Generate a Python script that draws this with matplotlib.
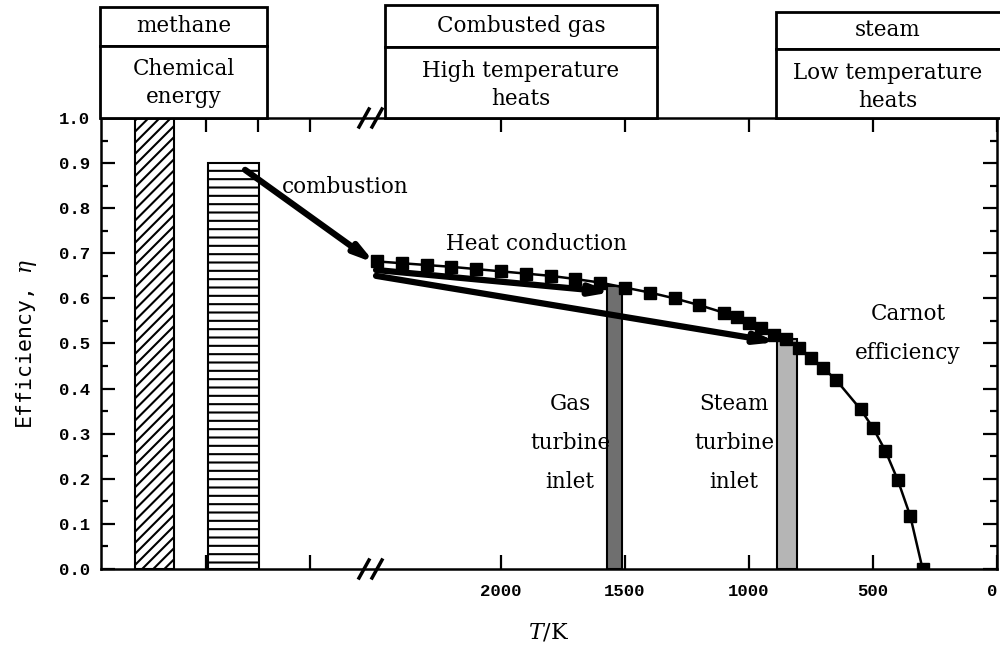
import matplotlib
matplotlib.use("Agg")
import matplotlib.pyplot as plt
from matplotlib.patches import Rectangle
from matplotlib.lines import Line2D
from matplotlib.ticker import MultipleLocator, FixedLocator, FixedFormatter, NullLocator

plt.rcParams["mathtext.fontset"] = "dejavuserif"
plt.rcParams["hatch.linewidth"] = 1.5

# Carnot efficiency curve (temperature in K, efficiency)
carnot_T = [2500, 2400, 2300, 2200, 2100, 2000, 1900, 1800, 1700, 1600, 1500,
            1400, 1300, 1200, 1100, 1050, 1000, 950, 900, 850, 800, 750, 700,
            650, 550, 500, 450, 400, 350, 300]
carnot_eta = [0.682, 0.678, 0.674, 0.670, 0.665, 0.660, 0.655, 0.650, 0.643,
              0.635, 0.624, 0.613, 0.600, 0.585, 0.568, 0.558, 0.546, 0.534,
              0.519, 0.509, 0.489, 0.467, 0.445, 0.420, 0.354, 0.313, 0.262,
              0.197, 0.118, 0.0]

# energy level of the fuel, left of the axis break
fuel_eta = [1.0, 0.9]

# turbine inlets
inlet_T = [1542, 847]
inlet_eta = [0.627, 0.51]

# arrows: (T, eta) start -> end
arrow_start = [(3032, 0.885), (2504, 0.663), (2504, 0.650)]
arrow_end = [(2508, 0.678), (1552, 0.614), (887, 0.503)]

temp_ticks = [2000, 1500, 1000, 500, 0]

# layout (pixels of a 1000x646 figure)
W, H = 1000, 646
serif = "DejaVu Serif"
mono = "Liberation Mono"


def fx(x):
    return x / W


def fy(y):
    return 1 - y / H


fig = plt.figure(figsize=(10, 6.46), dpi=100)
ax = fig.add_axes([fx(101), fy(569), fx(997) - fx(101), fy(118) - fy(569)])
ax.set_xlim(3613, 0)
ax.set_ylim(0, 1.0)

# fuel bars (placed left of the break)
fuel_x = [3397, 3079]
fuel_w = [157, 206]
ax.bar(fuel_x[0], fuel_eta[0], width=fuel_w[0], facecolor="white",
       edgecolor="black", hatch="///", lw=1.5, zorder=2)
ax.bar(fuel_x[1], fuel_eta[1], width=fuel_w[1], facecolor="white",
       edgecolor="black", hatch="--", lw=1.5, zorder=2)

# turbine inlet bars
ax.bar(inlet_T, inlet_eta, width=[60, 80], color=["#6f6f6f", "#b5b5b5"],
       edgecolor="black", lw=1.5, zorder=2)

# arrows
for s, e in zip(arrow_start, arrow_end):
    ax.annotate("", xy=e, xytext=s,
                arrowprops=dict(arrowstyle="-|>,head_length=1.1,head_width=0.3",
                                lw=4.5, color="black", capstyle="round",
                                shrinkA=0, shrinkB=0),
                zorder=3)

# Carnot curve
ax.plot(carnot_T, carnot_eta, "-s", color="black", lw=1.8, ms=9, zorder=4)

# ticks
ax.xaxis.set_major_locator(FixedLocator([3190, 2980, 2770] + temp_ticks))
ax.xaxis.set_major_formatter(FixedFormatter(["", "", ""] + [str(t) for t in temp_ticks]))
ax.xaxis.set_minor_locator(NullLocator())
ax.yaxis.set_major_locator(MultipleLocator(0.1))
ax.yaxis.set_minor_locator(MultipleLocator(0.05))
ax.yaxis.set_major_formatter(plt.FormatStrFormatter("%.1f"))
ax.tick_params(which="both", direction="in", top=True, right=True, width=1.6)
ax.tick_params(which="major", length=10)
ax.tick_params(which="minor", length=5)
ax.tick_params(axis="y", pad=8)
ax.tick_params(axis="x", pad=11)
for lab in ax.get_xticklabels() + ax.get_yticklabels():
    lab.set_fontfamily(mono)
    lab.set_fontweight("bold")
    lab.set_fontsize(12.5)
# keep the last "0" inside the picture
ax.get_xticklabels()[-1].set_horizontalalignment("right")
for sp in ax.spines.values():
    sp.set_linewidth(1.8)

ax.set_ylabel("Efficiency, $\\eta$", fontfamily="DejaVu Sans Mono", fontsize=15.5,
              labelpad=14)
ax.set_xlabel("$T$/K", fontfamily=serif, fontsize=16, labelpad=16)

# axis break marks
for ypx in (118, 569):
    for xpx in (364, 377):
        fig.add_artist(Line2D([fx(xpx - 5), fx(xpx + 5)], [fy(ypx + 9), fy(ypx - 9)],
                              color="black", lw=2.5))

# annotations
txt = dict(fontfamily=serif, fontsize=15.5, ha="center", va="center")
ax.text(fx(345), fy(187), "combustion", transform=fig.transFigure, **txt)
ax.text(fx(536), fy(244), "Heat conduction", transform=fig.transFigure, **txt)
ax.text(fx(908), fy(334), "Carnot\nefficiency", transform=fig.transFigure,
        linespacing=2.0, **txt)
ax.text(fx(570), fy(443), "Gas\nturbine\ninlet", transform=fig.transFigure,
        linespacing=2.0, **txt)
ax.text(fx(734), fy(443), "Steam\nturbine\ninlet", transform=fig.transFigure,
        linespacing=2.0, **txt)

# header boxes above the axes
boxes = [
    (100, 267, 7, 46, "methane", "Chemical\nenergy", 83),
    (385, 657, 5, 47, "Combusted gas", "High temperature\nheats", 85),
    (776, 1010, 12, 49, "steam", "Low temperature\nheats", 87),
]
for x0, x1, yt, yd, top, bottom, yb in boxes:
    for ya, yb_ in ((yt, yd), (yd, 118)):
        fig.add_artist(Rectangle((fx(x0), fy(yb_)), fx(x1) - fx(x0), fy(ya) - fy(yb_),
                                 transform=fig.transFigure, facecolor="white",
                                 edgecolor="black", lw=2.0))
    fig.text(fx((x0 + min(x1, 1000)) / 2), fy((yt + yd) / 2), top, **txt)
    fig.text(fx((x0 + min(x1, 1000)) / 2), fy(yb), bottom, linespacing=1.35, **txt)

fig.savefig("out.png", dpi=100)
